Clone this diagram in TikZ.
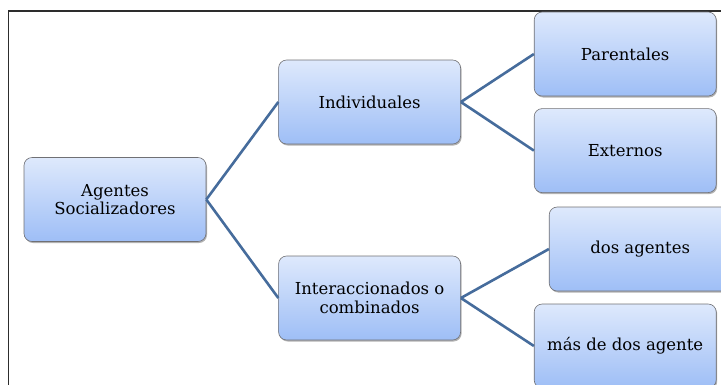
\documentclass[tikz,border=0pt]{standalone}
\usepackage{fontspec}
\setmainfont{DejaVu Serif}
\usepackage{tikz}
\usetikzlibrary{positioning,shadows}
\definecolor{boxtop}{RGB}{222,233,252}
\definecolor{boxbot}{RGB}{158,190,246}
\definecolor{boxline}{RGB}{112,112,116}
\definecolor{linkblue}{RGB}{70,108,156}
\definecolor{framegray}{RGB}{45,45,45}

\begin{document}
\begin{tikzpicture}[x=1pt,y=-1pt,
    agent/.style={draw=boxline, line width=0.6pt, rounded corners=8pt,
        top color=boxtop, bottom color=boxbot,
        minimum width=182pt, minimum height=84pt, align=center,
        font=\fontsize{16.5}{18.5}\selectfont,
        drop shadow={shadow xshift=1pt, shadow yshift=-1.5pt, fill=black, opacity=0.3}},
    link/.style={draw=linkblue, line width=2.6pt}]
        \useasboundingbox (0,0) rectangle (721,384);
        \draw[framegray, line width=1.5pt] (8.5,390) -- (8.5,11) -- (730,11);

        \node[agent] (root) at (115,199.5) {Agentes\\Socializadores};
        \node[agent, right = 72pt of root, yshift=97.5pt] (ind) {Individuales};
        \node[agent, right = 72pt of root, yshift=-98.5pt] (inter) {Interaccionados o\\combinados};
        \node[agent, right = 73pt of ind, yshift=48pt] (par) {Parentales};
        \node[agent, below = 12pt of par] (ext) {Externos};
        \node[agent, right = 88pt of inter, yshift=49pt] (dos) {dos agentes};
        \node[agent, right = 73pt of inter, yshift=-48pt] (mas) {más de dos agente};

        \draw[link] (root.east) -- (ind.west);
        \draw[link] (root.east) -- (inter.west);
        \draw[link] (ind.east) -- (par.west);
        \draw[link] (ind.east) -- (ext.west);
        \draw[link] (inter.east) -- (dos.west);
        \draw[link] (inter.east) -- (mas.west);
\end{tikzpicture}
\end{document}
